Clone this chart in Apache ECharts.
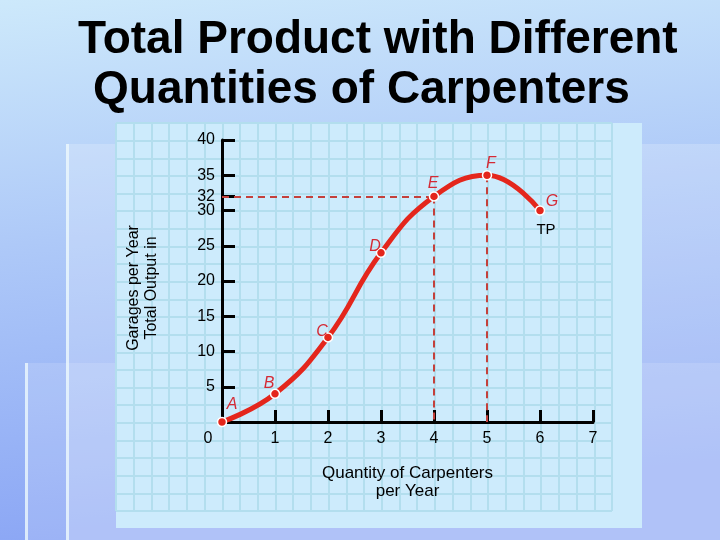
<!DOCTYPE html>
<html>
<head>
<meta charset="utf-8">
<script src="https://cdn.jsdelivr.net/npm/echarts@6/dist/echarts.min.js"></script>
<style>
  html, body { margin: 0; padding: 0; }
  #chart { width: 720px; height: 540px; }
</style>
</head>
<body>
<div id="chart"></div>
<script>
// data
const carpenters = [0, 1, 2, 3, 4, 5, 6];
const totalOutput = [0, 4, 12, 24, 32, 35, 30];
const pointNames = ['A', 'B', 'C', 'D', 'E', 'F', 'G'];
const xLabels = [0, 1, 2, 3, 4, 5, 6, 7];
const xTicks = [1, 2, 3, 4, 5, 6, 7];
const yTicks = [5, 10, 15, 20, 25, 30, 32, 35, 40];

const FONT = '"Liberation Sans", Arial, sans-serif';
const RED = '#e4261c';
const DASH = '#c4403b';

// where each letter sits around its point
const labelOffsets = {
  A: [10, -17], B: [-6, -10], C: [-6, -6], D: [-6, -6],
  E: [-1, -13], F: [4, -12], G: [12, -9]
};

const chart = echarts.init(document.getElementById('chart'));

const pointData = carpenters.map((x, i) => ({
  value: [x, totalOutput[i]],
  label: {
    show: true,
    formatter: pointNames[i],
    position: 'inside',
    offset: labelOffsets[pointNames[i]],
    color: '#d42a35',
    fontStyle: 'italic',
    fontSize: 16,
    fontFamily: FONT
  }
}));

// dashed guides down from E and F
const iE = 4, iF = 5;
const guides = [
  [{ coord: [0, totalOutput[iE]] }, { coord: [carpenters[iE], totalOutput[iE]] }],
  [{ coord: [carpenters[iE], totalOutput[iE]] }, { coord: [carpenters[iE], 0] }],
  [{ coord: [carpenters[iF], totalOutput[iF]] }, { coord: [carpenters[iF], 0] }]
];

const option = {
  animation: false,
  title: [
    {
      text: 'Total Product with Different',
      left: 78, top: 17, padding: 0,
      textStyle: { fontFamily: FONT, fontWeight: 'bold', fontSize: 46, color: '#000' }
    },
    {
      text: 'Quantities of Carpenters',
      left: 93, top: 67, padding: 0,
      textStyle: { fontFamily: FONT, fontWeight: 'bold', fontSize: 46, color: '#000' }
    }
  ],
  graphic: [
    {
      type: 'rect', z: -20, silent: true,
      shape: { x: 0, y: 0, width: 720, height: 540 },
      style: {
        fill: new echarts.graphic.LinearGradient(0, 0, 0.08, 1, [
          { offset: 0, color: '#cde9fb' },
          { offset: 0.45, color: '#aec9f8' },
          { offset: 1, color: '#8ca7f5' }
        ])
      }
    },
    { type: 'rect', z: -19, silent: true, shape: { x: 66, y: 144, width: 654, height: 396 }, style: { fill: 'rgba(255,255,255,0.2)' } },
    { type: 'rect', z: -18, silent: true, shape: { x: 25, y: 363, width: 695, height: 177 }, style: { fill: 'rgba(255,255,255,0.14)' } },
    { type: 'rect', z: -17, silent: true, shape: { x: 66, y: 144, width: 3, height: 396 }, style: { fill: 'rgba(235,248,252,0.8)' } },
    { type: 'rect', z: -17, silent: true, shape: { x: 25, y: 363, width: 3, height: 177 }, style: { fill: 'rgba(235,248,252,0.8)' } },
    {
      type: 'text', silent: true, z: 10,
      x: 143, y: 288, rotation: Math.PI / 2,
      style: {
        text: 'Garages per Year\nTotal Output in',
        textAlign: 'center', textVerticalAlign: 'middle',
        align: 'center', verticalAlign: 'middle',
        font: '16px ' + FONT, fill: '#000', lineHeight: 18
      }
    },
    {
      type: 'text', silent: true, z: 10,
      x: 546, y: 230,
      style: {
        text: 'TP',
        textAlign: 'center', textVerticalAlign: 'middle',
        align: 'center', verticalAlign: 'middle',
        font: '15px ' + FONT, fill: '#000'
      }
    }
  ],
  grid: [
    // the sheet behind the chart
    { left: 116, top: 123, width: 526, height: 405, show: true, backgroundColor: '#cdebfc', borderWidth: 0 },
    // graph paper
    { left: 116, top: 123, width: 496, height: 388 },
    // the chart itself
    { left: 222, top: 140, width: 371, height: 282 }
  ],
  xAxis: [
    { gridIndex: 0, type: 'value', show: false, min: 0, max: 1 },
    {
      gridIndex: 1, type: 'value', min: 0, max: 28, interval: 1,
      axisLine: { show: false }, axisTick: { show: false }, axisLabel: { show: false },
      splitLine: { show: true, lineStyle: { color: '#b3deee', width: 2 } }
    },
    {
      gridIndex: 2, type: 'value', min: 0, max: 7, interval: 1,
      axisLine: { show: true, onZero: false, lineStyle: { color: '#000', width: 3 } },
      axisTick: { show: true, inside: true, length: 12, customValues: xTicks, lineStyle: { color: '#000', width: 3 } },
      axisLabel: {
        customValues: xLabels, margin: 9, color: '#000', fontSize: 16, fontFamily: FONT,
        formatter: v => (v === 0 ? '{z|0}' : String(v)),
        rich: { z: { padding: [0, 28, 0, 0], fontSize: 16, fontFamily: FONT, color: '#000' } }
      },
      name: 'Quantity of Carpenters\nper Year',
      nameLocation: 'middle',
      nameGap: 42,
      nameTextStyle: { color: '#000', fontSize: 17, fontFamily: FONT, lineHeight: 18, verticalAlign: 'top' },
      splitLine: { show: false }
    }
  ],
  yAxis: [
    { gridIndex: 0, type: 'value', show: false, min: 0, max: 1 },
    {
      gridIndex: 1, type: 'value', min: 0, max: 22, interval: 1,
      axisLine: { show: false }, axisTick: { show: false }, axisLabel: { show: false },
      splitLine: { show: true, lineStyle: { color: '#b3deee', width: 2 } }
    },
    {
      gridIndex: 2, type: 'value', min: 0, max: 40,
      axisLine: { show: true, onZero: false, lineStyle: { color: '#000', width: 3 } },
      axisTick: { show: true, inside: true, length: 13, customValues: yTicks, lineStyle: { color: '#000', width: 3 } },
      axisLabel: { customValues: yTicks, margin: 7, color: '#000', fontSize: 16, fontFamily: FONT },
      splitLine: { show: false }
    }
  ],
  series: [
    {
      type: 'line',
      xAxisIndex: 2, yAxisIndex: 2,
      data: pointData,
      smooth: 0.45,
      lineStyle: { color: RED, width: 5 },
      symbol: 'circle',
      symbolSize: 9,
      itemStyle: { color: RED, borderColor: '#fff', borderWidth: 1.5 },
      z: 5,
      markLine: {
        silent: true,
        symbol: 'none',
        label: { show: false },
        lineStyle: { color: DASH, width: 2, type: [7, 5] },
        data: guides,
        z: 3
      }
    }
  ]
};

chart.setOption(option);
</script>
</body>
</html>
